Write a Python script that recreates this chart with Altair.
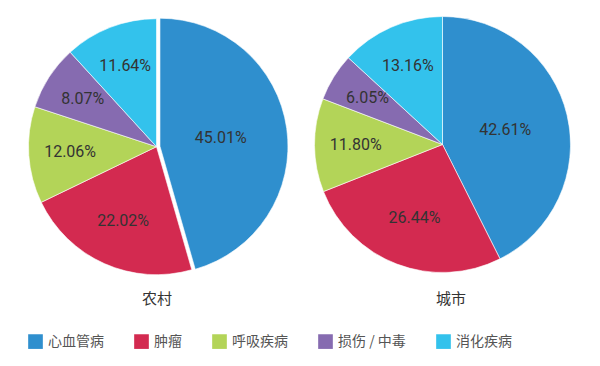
import altair as alt
import pandas as pd

categories = ["心血管病", "肿瘤", "呼吸疾病", "损伤 / 中毒", "消化疾病"]
groups = ["农村", "城市"]
rural = [45.01, 22.02, 12.06, 8.07, 11.64]
urban = [42.61, 26.44, 11.80, 6.05, 13.16]
colors = ["#2F8FCE", "#D32A50", "#B3D458", "#866BB0", "#33C2EC"]

rows = []
for g, vals in zip(groups, [rural, urban]):
    for i, (c, v) in enumerate(zip(categories, vals)):
        rows.append({"group": g, "cat": c, "value": v, "order": i, "label": f"{v:.2f}%"})
df = pd.DataFrame(rows)

# layout (plot-area pixels)
CX = {"农村": 148.5, "城市": 434.5}
CY = {"农村": 138.7, "城市": 136.5}
R = 128
LABEL_K = 1.04  # labels near the sector centroid
EXPLODE = 3.5

cx_expr = f"datum.group == '农村' ? {CX['农村']} : {CX['城市']}"
cy_expr = f"datum.group == '农村' ? {CY['农村']} : {CY['城市']}"

base = alt.Chart(df).transform_joinaggregate(
    total="sum(value)", groupby=["group"]
).transform_window(
    cum="sum(value)", sort=[alt.SortField("order")], groupby=["group"], frame=[None, 0]
).transform_calculate(
    t0="(datum.cum - datum.value) / datum.total * 2 * PI",
    t1="datum.cum / datum.total * 2 * PI",
).transform_calculate(
    mid="(datum.t0 + datum.t1) / 2",
    half="(datum.t1 - datum.t0) / 2",
    cx=cx_expr,
    cy=cy_expr,
    ex=f"(datum.group == '农村' && datum.order == 0) ? {EXPLODE} : 0",
).transform_calculate(
    ax="datum.cx + datum.ex * sin(datum.mid)",
    ay="datum.cy - datum.ex * cos(datum.mid)",
    lr=f"{LABEL_K} * 2 * {R} * sin(datum.half) / (3 * datum.half)",
).transform_calculate(
    lx="datum.ax + datum.lr * sin(datum.mid)",
    ly="datum.ay - datum.lr * cos(datum.mid)",
)

arcs = base.mark_arc(radius=R, stroke="white", strokeWidth=0.6).encode(
    theta=alt.Theta("t0:Q", scale=None),
    theta2="t1:Q",
    x=alt.X("ax:Q", scale=None),
    y=alt.Y("ay:Q", scale=None),
    color=alt.Color(
        "cat:N",
        scale=alt.Scale(domain=categories, range=colors),
        legend=alt.Legend(
            orient="none", legendX=20, legendY=326, direction="horizontal",
            title=None, columns=5, symbolType="square", symbolSize=215,
            symbolStrokeWidth=0, symbolOpacity=1,
            labelFont="Noto Sans CJK SC", labelFontSize=14, labelColor="#555555",
            labelOffset=5, columnPadding=30,
        ),
    ),
)

labels = base.mark_text(font="Roboto", fontSize=16, fontWeight="normal", color="#333333").encode(
    x=alt.X("lx:Q", scale=None),
    y=alt.Y("ly:Q", scale=None),
    text="label:N",
)

tdf = pd.DataFrame({"group": groups})
titles = alt.Chart(tdf).transform_calculate(
    tx=f"datum.group == '农村' ? {CX['农村'] + 0.5} : {CX['城市'] + 8.5}",
    ty="290.5",
).mark_text(font="Noto Sans CJK SC", fontSize=15, color="#333333").encode(
    x=alt.X("tx:Q", scale=None),
    y=alt.Y("ty:Q", scale=None),
    text="group:N",
)

chart = alt.layer(arcs, labels, titles).properties(
    width=584, height=350, autosize="none", padding=0
).configure_view(stroke=None)

chart.save("out.html", embed_options={"renderer": "svg", "actions": False})
